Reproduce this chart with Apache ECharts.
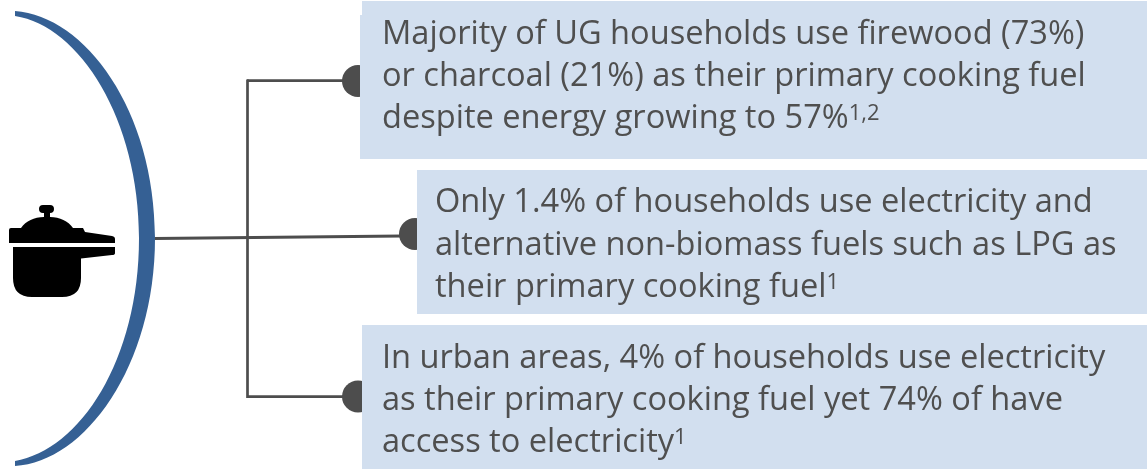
<!DOCTYPE html>
<html>
<head>
<meta charset="utf-8">
<style>
html, body { margin: 0; padding: 0; background: #fff; }
#main { width: 1147px; height: 469px; }
</style>
<script src="https://cdn.jsdelivr.net/npm/echarts@6/dist/echarts.min.js"></script>
</head>
<body>
<div id="main"></div>
<script>
// text of the three call-out boxes, {s|..} is the superscript footnote
var box1Lines = ['Majority of UG households use firewood (73%)', 'or charcoal (21%) as their primary cooking fuel', 'despite energy growing to 57%{s|1,2}'];
var box2Lines = ['Only 1.4% of households use electricity and', 'alternative non-biomass fuels such as LPG as', 'their primary cooking fuel{s|1}'];
var box3Lines = ['In urban areas, 4% of households use electricity', 'as their primary cooking fuel yet 74% of have', 'access to electricity{s|1}'];

var FONT = '"Open Sans", sans-serif';
var TEXT_COLOR = '#4f4f4f';
var LINE_COLOR = '#4d4d4d';
var BOX_COLOR = '#d2dfef';
var ARC_COLOR = '#356094';

var potPath = 'M39 209 Q39 205 43 205 L50 205 Q54 205 54 209 Q54 213 50 213 L50 217 ' +
    'C60 217 68 221 73 228 L83 228 L85 232 L112 236 Q115 236.500 115 239 L115 243 L9 243 L9 230 Q9 228 11 228 L21 228 ' +
    'C26 221 34 217 44 217 L44 213 L43 213 Q39 213 39 209 Z ' +
    'M13 247 L115 247 L115 253 Q115 255 112 255 L81 258.500 L81 278 Q81 297 62 297 L32 297 Q13 297 13 278 Z';
var arcPath = 'M15 11 C85 16 155 110 155 238 C155 366 85 462 15 466 L15 461 C80 450 139 360 139 238 C139 120 80 26 15 16 Z';

function textLines(lines, x, ys) {
    return lines.map(function (line, i) {
        return {
            type: 'text',
            x: x,
            y: ys[i],
            z: 5,
            style: {
                text: line,
                font: '32.6px ' + FONT,
                fill: TEXT_COLOR,
                verticalAlign: 'middle',
                rich: {
                    s: { font: '22px ' + FONT, fill: TEXT_COLOR, verticalAlign: 'top', lineHeight: 10 }
                }
            }
        };
    });
}
function rect(x, y, w, h, z) {
    return { type: 'rect', z: z, shape: { x: x, y: y, width: w, height: h }, style: { fill: BOX_COLOR } };
}
function dot(cx, cy) {
    return { type: 'circle', z: 2, shape: { cx: cx, cy: cy, r: 16 }, style: { fill: LINE_COLOR } };
}
function line(x1, y1, x2, y2, w) {
    return { type: 'line', z: 1, shape: { x1: x1, y1: y1, x2: x2, y2: y2 }, style: { stroke: LINE_COLOR, lineWidth: w || 2.700 } };
}

var elements = [
    line(155, 238.500, 402, 236, 3),
    line(247.500, 79.500, 247.500, 398),
    line(247, 80.700, 350, 80.700),
    line(247, 396.700, 350, 396.700),
    dot(358, 81),
    dot(415, 234),
    dot(358, 396.500),
    rect(362, 1, 785, 158, 3),
    rect(360, 15, 787, 144, 3),
    rect(417, 170, 730, 144, 3),
    rect(362, 325, 785, 144, 3)
];
elements = elements.concat(
    textLines(box1Lines, 382, [35, 77, 119]),
    textLines(box2Lines, 435, [203, 246, 288]),
    textLines(box3Lines, 382, [359, 401, 443])
);

var myChart = echarts.init(document.getElementById('main'), null, { renderer: 'canvas' });
myChart.setOption({
    animation: false,
    backgroundColor: '#fff',
    graphic: { elements: elements },
    series: [{
        type: 'custom',
        coordinateSystem: 'none',
        silent: true,
        data: [[0]],
        renderItem: function () {
            return {
                type: 'group',
                children: [
                    { type: 'path', shape: { pathData: arcPath }, style: { fill: ARC_COLOR } },
                    { type: 'path', shape: { pathData: potPath }, style: { fill: '#000' } }
                ]
            };
        }
    }]
});
</script>
</body>
</html>
